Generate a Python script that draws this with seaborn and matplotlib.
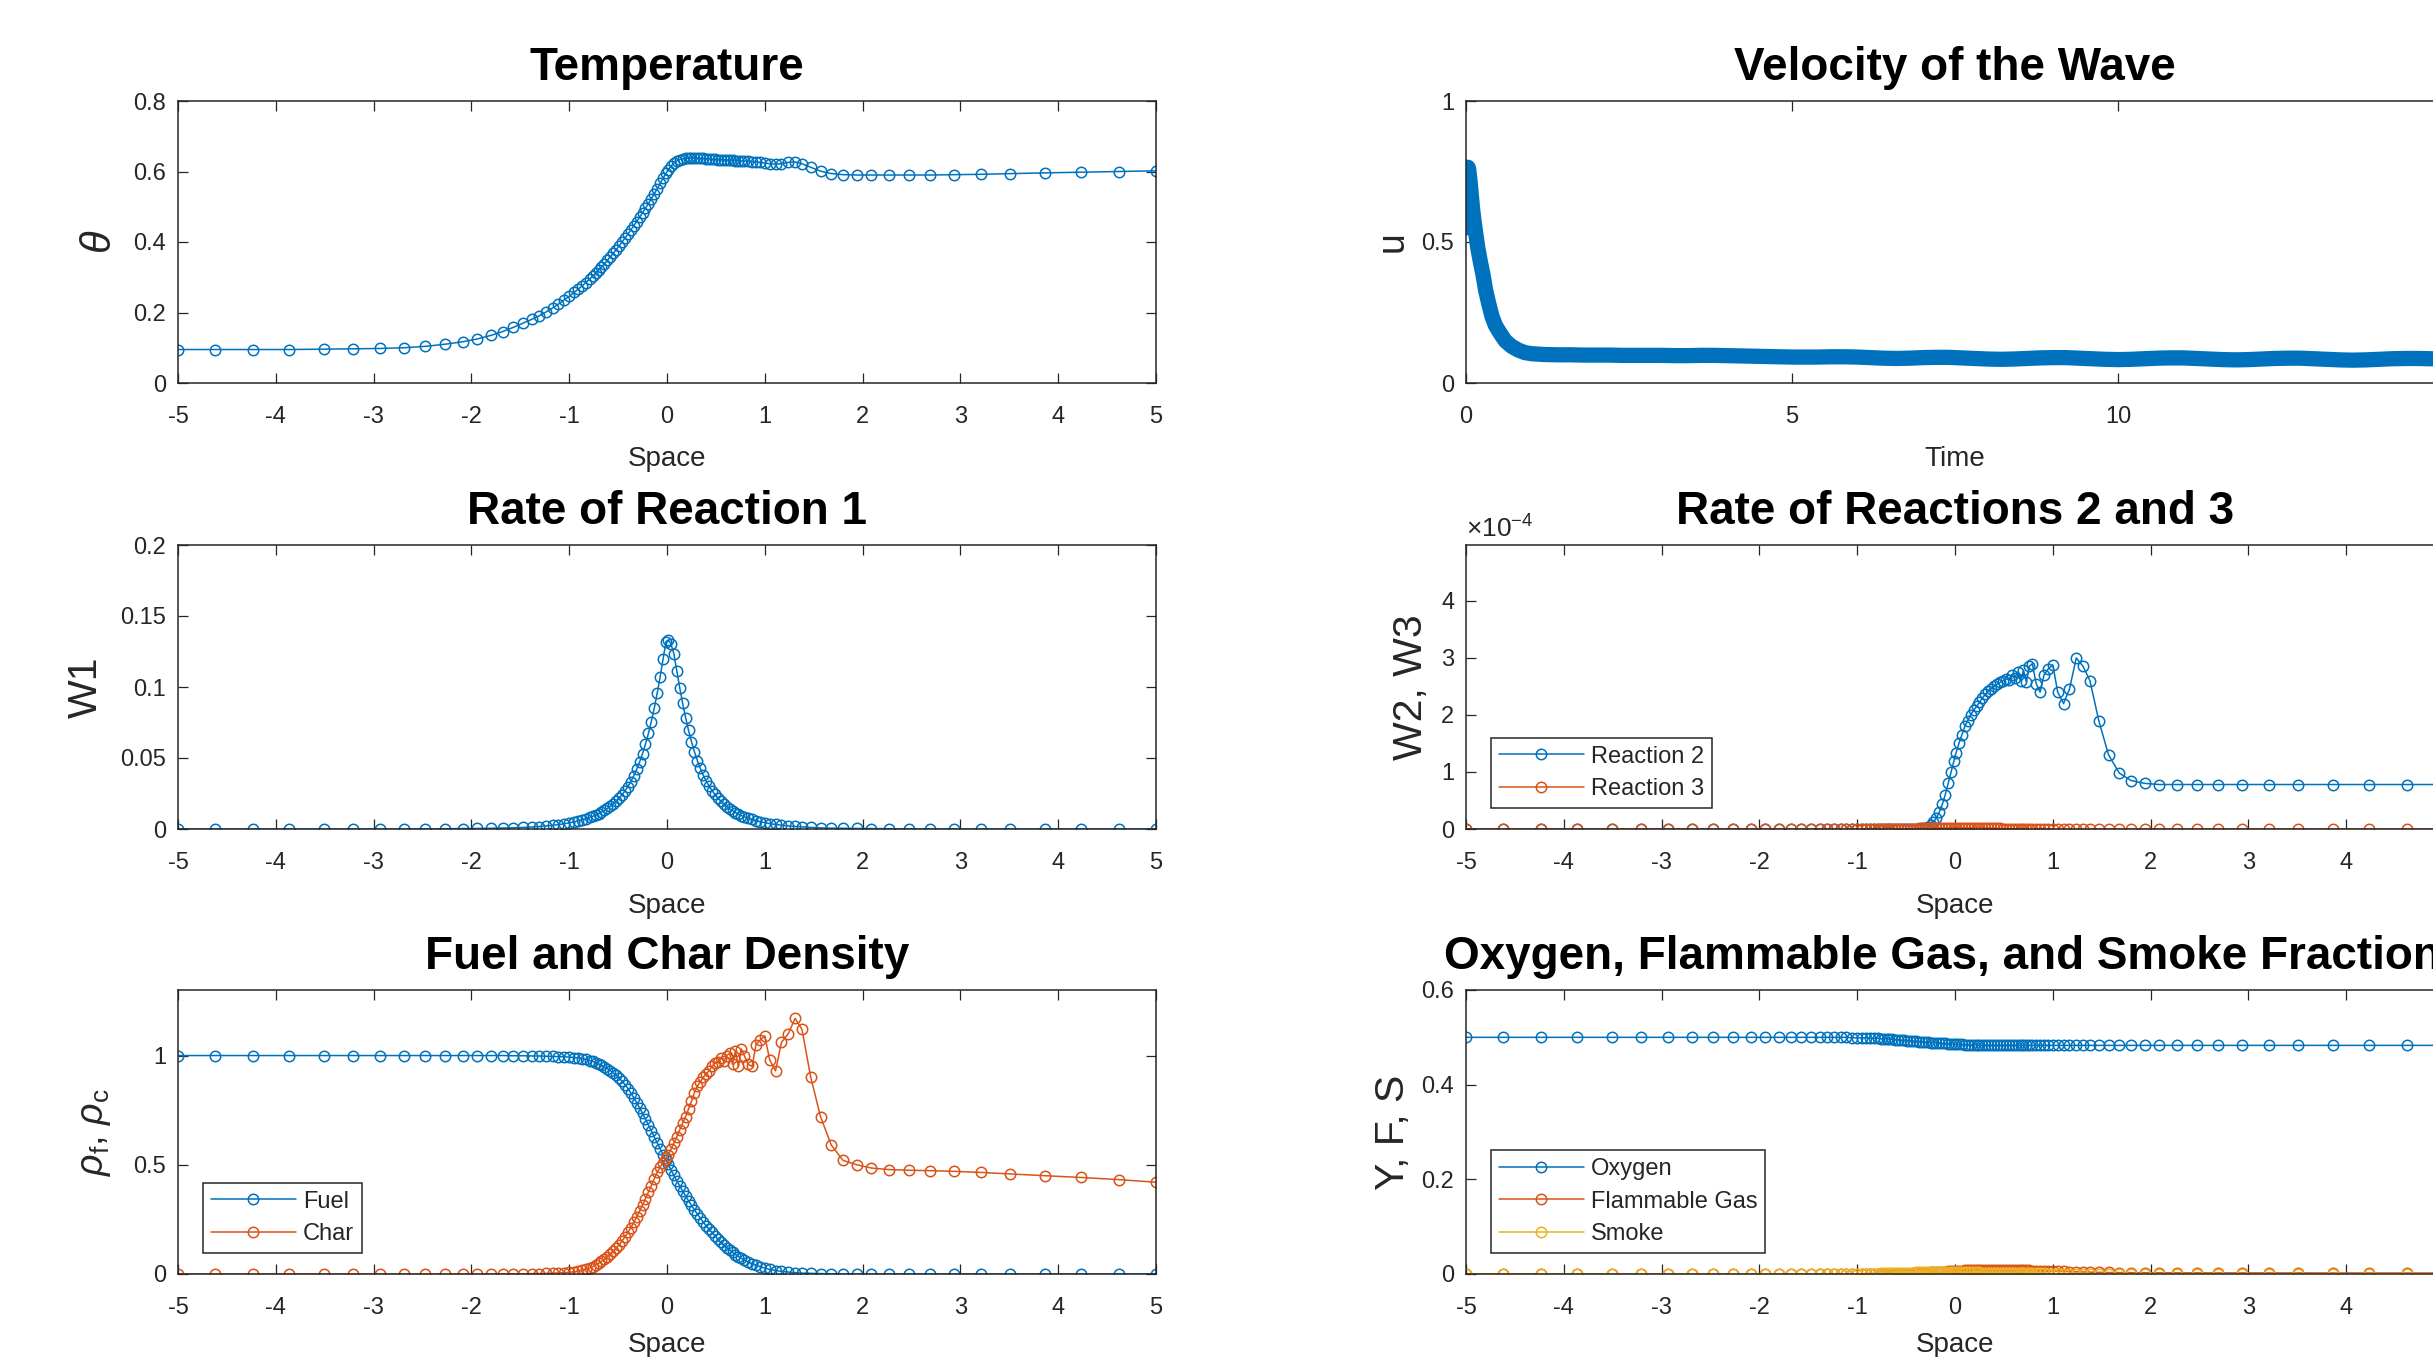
import matplotlib
matplotlib.use('Agg')
import matplotlib.pyplot as plt
from matplotlib.ticker import FuncFormatter
import pandas as pd
import seaborn as sns

# Spatial grid (non-uniform, refined around the front), read off the markers
space = [
    -5.00, -4.62, -4.23, -3.86, -3.51, -3.21, -2.93, -2.69, -2.47,
    -2.27, -2.09, -1.94, -1.80, -1.68, -1.57, -1.47, -1.38, -1.31,
    -1.24, -1.17, -1.11, -1.05, -1.00, -0.95, -0.91, -0.87, -0.83,
    -0.79, -0.76, -0.73, -0.70, -0.67, -0.64, -0.61, -0.58, -0.55,
    -0.52, -0.49, -0.46, -0.43, -0.40, -0.37, -0.34, -0.31, -0.28,
    -0.25, -0.22, -0.19, -0.16, -0.13, -0.10, -0.07, -0.04, -0.01,
    0.01, 0.04, 0.07, 0.10, 0.13, 0.16, 0.19, 0.22, 0.25,
    0.28, 0.31, 0.34, 0.37, 0.40, 0.43, 0.46, 0.49, 0.52,
    0.55, 0.58, 0.61, 0.64, 0.67, 0.70, 0.73, 0.76, 0.79,
    0.83, 0.87, 0.91, 0.95, 1.00, 1.05, 1.11, 1.17, 1.24,
    1.31, 1.38, 1.47, 1.57, 1.68, 1.80, 1.94, 2.09, 2.27,
    2.47, 2.69, 2.93, 3.21, 3.51, 3.86, 4.23, 4.62, 5.00,
]

theta = [
    0.095, 0.095, 0.095, 0.095, 0.096, 0.097, 0.098, 0.100, 0.104,
    0.110, 0.117, 0.125, 0.135, 0.146, 0.158, 0.170, 0.181, 0.190,
    0.201, 0.213, 0.224, 0.236, 0.246, 0.257, 0.266, 0.275, 0.285,
    0.295, 0.303, 0.311, 0.320, 0.329, 0.338, 0.348, 0.358, 0.368,
    0.378, 0.389, 0.400, 0.411, 0.422, 0.434, 0.446, 0.458, 0.470,
    0.483, 0.496, 0.509, 0.523, 0.537, 0.551, 0.566, 0.581, 0.595,
    0.604, 0.615, 0.624, 0.630, 0.634, 0.636, 0.637, 0.638, 0.638,
    0.638, 0.638, 0.637, 0.637, 0.636, 0.636, 0.635, 0.635, 0.634,
    0.634, 0.633, 0.633, 0.632, 0.632, 0.631, 0.631, 0.630, 0.630,
    0.629, 0.628, 0.627, 0.626, 0.624, 0.622, 0.621, 0.622, 0.626,
    0.627, 0.622, 0.612, 0.601, 0.594, 0.591, 0.590, 0.590, 0.590,
    0.590, 0.590, 0.591, 0.592, 0.594, 0.596, 0.598, 0.600, 0.602,
]

w1 = [
    0.0, 0.0, 0.0, 0.0, 0.0, 0.0, 0.0, 0.0, 0.0001,
    0.0002, 0.0003, 0.0004, 0.0005, 0.0007, 0.0009, 0.0011, 0.0014, 0.0017,
    0.0021, 0.0026, 0.0031, 0.0037, 0.0043, 0.0050, 0.0057, 0.0064, 0.0072,
    0.0081, 0.0089, 0.0098, 0.0108, 0.0119, 0.0131, 0.0145, 0.0160, 0.0177,
    0.0196, 0.0217, 0.0241, 0.0268, 0.0299, 0.0334, 0.0374, 0.0420, 0.0472,
    0.0531, 0.0598, 0.0673, 0.0757, 0.0852, 0.0957, 0.1072, 0.1197, 0.1320,
    0.1330, 0.1305, 0.1235, 0.1115, 0.0995, 0.0885, 0.0785, 0.0695, 0.0615,
    0.0545, 0.0482, 0.0428, 0.0380, 0.0339, 0.0303, 0.0271, 0.0243, 0.0218,
    0.0196, 0.0176, 0.0158, 0.0142, 0.0128, 0.0116, 0.0105, 0.0095, 0.0086,
    0.0076, 0.0067, 0.0059, 0.0052, 0.0045, 0.0038, 0.0032, 0.0027, 0.0022,
    0.0018, 0.0015, 0.0011, 0.0008, 0.0006, 0.0005, 0.0004, 0.0003, 0.0002,
    0.0001, 0.0, 0.0, 0.0, 0.0, 0.0, 0.0, 0.0, 0.0,
]

# reaction rates 2 and 3, in units of 1e-4
w2 = [
    0, 0, 0, 0, 0, 0, 0, 0, 0,
    0, 0, 0, 0, 0, 0, 0, 0, 0,
    0, 0, 0, 0, 0, 0, 0, 0, 0,
    0, 0, 0, 0, 0, 0, 0, 0, 0,
    0, 0, 0, 0, 0, 0.005, 0.01, 0.02, 0.04,
    0.07, 0.12, 0.20, 0.30, 0.43, 0.60, 0.80, 1.00, 1.20,
    1.33, 1.50, 1.65, 1.80, 1.90, 2.00, 2.08, 2.15, 2.22,
    2.30, 2.36, 2.42, 2.46, 2.50, 2.54, 2.57, 2.60, 2.63,
    2.62, 2.70, 2.65, 2.75, 2.60, 2.78, 2.58, 2.85, 2.90,
    2.55, 2.40, 2.70, 2.80, 2.88, 2.40, 2.20, 2.45, 3.00,
    2.85, 2.60, 1.90, 1.30, 0.98, 0.85, 0.80, 0.78, 0.78,
    0.78, 0.78, 0.78, 0.78, 0.78, 0.78, 0.78, 0.78, 0.78,
]

w3 = [
    0, 0, 0, 0, 0, 0, 0, 0, 0,
    0, 0, 0, 0, 0, 0, 0, 0, 0,
    0, 0, 0, 0, 0, 0, 0, 0, 0,
    0, 0, 0, 0, 0, 0, 0, 0.002, 0.003,
    0.004, 0.005, 0.006, 0.007, 0.008, 0.009, 0.010, 0.011, 0.012,
    0.013, 0.014, 0.015, 0.016, 0.017, 0.018, 0.019, 0.020, 0.020,
    0.020, 0.020, 0.020, 0.020, 0.020, 0.019, 0.018, 0.017, 0.016,
    0.015, 0.014, 0.013, 0.012, 0.011, 0.010, 0.009, 0.008, 0.007,
    0.006, 0.005, 0.004, 0.003, 0.002, 0.001, 0, 0, 0,
    0, 0, 0, 0, 0, 0, 0, 0, 0,
    0, 0, 0, 0, 0, 0, 0, 0, 0,
    0, 0, 0, 0, 0, 0, 0, 0, 0,
]

fuel = [
    1.000, 1.000, 1.000, 1.000, 1.000, 1.000, 1.000, 1.000, 1.000,
    1.000, 1.000, 1.000, 1.000, 1.000, 0.999, 0.999, 0.998, 0.998,
    0.997, 0.996, 0.995, 0.994, 0.993, 0.991, 0.989, 0.986, 0.982,
    0.977, 0.973, 0.968, 0.962, 0.955, 0.948, 0.940, 0.931, 0.921,
    0.910, 0.897, 0.883, 0.867, 0.849, 0.829, 0.807, 0.784, 0.760,
    0.735, 0.709, 0.682, 0.655, 0.627, 0.600, 0.573, 0.546, 0.520,
    0.503, 0.477, 0.452, 0.427, 0.403, 0.380, 0.357, 0.335, 0.314,
    0.294, 0.274, 0.256, 0.238, 0.221, 0.205, 0.190, 0.176, 0.158,
    0.145, 0.133, 0.121, 0.110, 0.099, 0.089, 0.080, 0.072, 0.064,
    0.055, 0.047, 0.040, 0.034, 0.027, 0.021, 0.016, 0.012, 0.009,
    0.006, 0.004, 0.003, 0.002, 0.001, 0.000, 0.000, 0.000, 0.000,
    0.000, 0.000, 0.000, 0.000, 0.000, 0.000, 0.000, 0.000, 0.000,
]

char = [
    0.000, 0.000, 0.000, 0.000, 0.000, 0.000, 0.000, 0.000, 0.000,
    0.000, 0.000, 0.000, 0.000, 0.000, 0.001, 0.001, 0.002, 0.002,
    0.003, 0.004, 0.005, 0.006, 0.008, 0.010, 0.013, 0.017, 0.022,
    0.028, 0.034, 0.041, 0.049, 0.058, 0.068, 0.079, 0.091, 0.104,
    0.118, 0.134, 0.151, 0.170, 0.190, 0.212, 0.236, 0.261, 0.288,
    0.316, 0.345, 0.375, 0.405, 0.436, 0.466, 0.490, 0.510, 0.530,
    0.545, 0.570, 0.600, 0.627, 0.660, 0.690, 0.720, 0.755, 0.790,
    0.830, 0.860, 0.880, 0.900, 0.915, 0.930, 0.950, 0.965, 0.970,
    0.990, 0.975, 1.000, 1.010, 0.960, 1.020, 0.950, 1.030, 1.000,
    0.960, 0.950, 1.050, 1.070, 1.090, 0.980, 0.930, 1.060, 1.100,
    1.170, 1.120, 0.900, 0.720, 0.590, 0.520, 0.500, 0.485, 0.478,
    0.475, 0.473, 0.470, 0.465, 0.458, 0.450, 0.442, 0.432, 0.420,
]

oxygen = [
    0.500, 0.500, 0.500, 0.500, 0.500, 0.500, 0.500, 0.500, 0.500,
    0.500, 0.500, 0.500, 0.500, 0.500, 0.500, 0.500, 0.500, 0.500,
    0.500, 0.500, 0.500, 0.499, 0.499, 0.499, 0.499, 0.498, 0.498,
    0.498, 0.497, 0.497, 0.497, 0.496, 0.496, 0.495, 0.495, 0.494,
    0.494, 0.493, 0.493, 0.492, 0.492, 0.491, 0.491, 0.490, 0.490,
    0.489, 0.489, 0.488, 0.488, 0.487, 0.487, 0.486, 0.486, 0.486,
    0.485, 0.485, 0.485, 0.484, 0.484, 0.484, 0.484, 0.484, 0.483,
    0.483, 0.483, 0.483, 0.483, 0.483, 0.483, 0.483, 0.483, 0.483,
    0.483, 0.483, 0.483, 0.483, 0.483, 0.483, 0.483, 0.483, 0.483,
    0.483, 0.483, 0.483, 0.483, 0.483, 0.483, 0.483, 0.483, 0.483,
    0.483, 0.483, 0.483, 0.483, 0.483, 0.483, 0.483, 0.483, 0.483,
    0.483, 0.483, 0.483, 0.483, 0.483, 0.483, 0.483, 0.483, 0.483,
]

flam_gas = [
    0, 0, 0, 0, 0, 0, 0, 0, 0,
    0, 0, 0, 0, 0, 0, 0, 0, 0,
    0, 0, 0, 0, 0, 0, 0, 0, 0,
    0, 0, 0, 0, 0, 0, 0, 0.0002, 0.0003,
    0.0005, 0.0007, 0.0009, 0.0011, 0.0014, 0.0017, 0.0020, 0.0024, 0.0028,
    0.0032, 0.0036, 0.0040, 0.0044, 0.0048, 0.0052, 0.0056, 0.0060, 0.0064,
    0.0066, 0.0069, 0.0072, 0.0074, 0.0076, 0.0078, 0.0079, 0.0080, 0.0080,
    0.0080, 0.0080, 0.0080, 0.0080, 0.0080, 0.0080, 0.0080, 0.0080, 0.0080,
    0.0080, 0.0080, 0.0079, 0.0078, 0.0077, 0.0076, 0.0075, 0.0074, 0.0073,
    0.0071, 0.0069, 0.0067, 0.0065, 0.0062, 0.0059, 0.0055, 0.0051, 0.0047,
    0.0043, 0.0039, 0.0035, 0.0032, 0.0030, 0.0028, 0.0027, 0.0026, 0.0025,
    0.0025, 0.0024, 0.0024, 0.0023, 0.0023, 0.0022, 0.0022, 0.0021, 0.0021,
]

smoke = [
    0, 0, 0, 0, 0, 0, 0, 0, 0,
    0, 0, 0, 0, 0, 0, 0.0001, 0.0001, 0.0001,
    0.0002, 0.0002, 0.0003, 0.0004, 0.0005, 0.0006, 0.0007, 0.0008, 0.0009,
    0.0010, 0.0011, 0.0012, 0.0013, 0.0015, 0.0017, 0.0019, 0.0021, 0.0023,
    0.0025, 0.0027, 0.0029, 0.0031, 0.0033, 0.0035, 0.0036, 0.0037, 0.0038,
    0.0039, 0.0040, 0.0040, 0.0041, 0.0041, 0.0041, 0.0041, 0.0041, 0.0040,
    0.0040, 0.0039, 0.0038, 0.0037, 0.0036, 0.0035, 0.0034, 0.0033, 0.0032,
    0.0031, 0.0030, 0.0029, 0.0028, 0.0027, 0.0026, 0.0025, 0.0024, 0.0023,
    0.0022, 0.0021, 0.0020, 0.0019, 0.0018, 0.0017, 0.0016, 0.0015, 0.0014,
    0.0013, 0.0012, 0.0011, 0.0010, 0.0009, 0.0008, 0.0007, 0.0006, 0.0005,
    0.0004, 0.0003, 0.0002, 0.0002, 0.0001, 0.0001, 0, 0, 0,
    0, 0, 0, 0, 0, 0, 0, 0, 0,
]

# wave velocity history
time = [
    0.00, 0.01, 0.02, 0.03, 0.04, 0.06, 0.08, 0.10, 0.12, 0.15, 0.18, 0.22,
    0.26, 0.30, 0.35, 0.40, 0.45, 0.50, 0.60, 0.70, 0.80, 0.90, 1.00,
    1.2, 1.4, 1.6, 1.8, 2.0, 2.2, 2.4, 2.6, 2.8, 3.0, 3.2, 3.4, 3.6, 3.8, 4.0,
    4.2, 4.4, 4.6, 4.8, 5.0, 5.2, 5.4, 5.6, 5.8, 6.0,
    6.2, 6.4, 6.6, 6.8, 7.0, 7.2, 7.4, 7.6, 7.8, 8.0,
    8.2, 8.4, 8.6, 8.8, 9.0, 9.2, 9.4, 9.6, 9.8, 10.0,
    10.2, 10.4, 10.6, 10.8, 11.0, 11.2, 11.4, 11.6, 11.8, 12.0,
    12.2, 12.4, 12.6, 12.8, 13.0, 13.2, 13.4, 13.6, 13.8, 14.0,
    14.2, 14.4, 14.6, 14.8, 15.0,
]
velocity = [
    0.55, 0.64, 0.76, 0.765, 0.76, 0.72, 0.67, 0.62, 0.58, 0.53, 0.48, 0.43,
    0.385, 0.33, 0.28, 0.235, 0.205, 0.185, 0.15, 0.13, 0.117, 0.108, 0.104,
    0.101, 0.100, 0.100, 0.099, 0.099, 0.099, 0.098, 0.098, 0.098, 0.098, 0.097, 0.097, 0.098, 0.098, 0.097,
    0.096, 0.095, 0.094, 0.093, 0.092, 0.092, 0.092, 0.093, 0.093, 0.092,
    0.090, 0.088, 0.087, 0.088, 0.090, 0.091, 0.091, 0.089, 0.087, 0.085,
    0.084, 0.085, 0.087, 0.089, 0.090, 0.090, 0.088, 0.086, 0.084, 0.083,
    0.084, 0.086, 0.088, 0.089, 0.089, 0.087, 0.085, 0.083, 0.082, 0.083,
    0.085, 0.087, 0.088, 0.088, 0.086, 0.084, 0.082, 0.081, 0.082, 0.084,
    0.086, 0.087, 0.087, 0.086, 0.084,
]

BLUE = '#0072BD'
ORANGE = '#D95319'
YELLOW = '#EDB120'
INK = '#262626'

sns.set_style('white')
plt.rcParams['font.family'] = ['Liberation Sans', 'DejaVu Sans']
plt.rcParams.update({
    'axes.unicode_minus': False,
    'mathtext.fontset': 'custom',
    'mathtext.rm': 'Liberation Sans',
    'mathtext.it': 'Liberation Sans:italic',
    'mathtext.bf': 'Liberation Sans:bold',
    'xtick.bottom': True,
    'ytick.left': True,
})

fig = plt.figure(figsize=(24.33, 13.57), dpi=100, facecolor='white')

left_col = 178 / 2433
right_col = 1466 / 2433
ax_w = 978 / 2433
rows = [((1357 - 383) / 1357, 282 / 1357),
        ((1357 - 829) / 1357, 284 / 1357),
        ((1357 - 1274) / 1357, 284 / 1357)]

ax_temp = fig.add_axes([left_col, rows[0][0], ax_w, rows[0][1]])
ax_vel = fig.add_axes([right_col, rows[0][0], ax_w, rows[0][1]])
ax_w1 = fig.add_axes([left_col, rows[1][0], ax_w, rows[1][1]])
ax_w23 = fig.add_axes([right_col, rows[1][0], ax_w, rows[1][1]])
ax_rho = fig.add_axes([left_col, rows[2][0], ax_w, rows[2][1]])
ax_gas = fig.add_axes([right_col, rows[2][0], ax_w, rows[2][1]])

fmt = FuncFormatter(lambda v, p: f'{v:g}')


def draw(ax, x, y, color, label=None, z=2):
    df = pd.DataFrame({'x': x, 'y': y})
    sns.lineplot(data=df, x='x', y='y', ax=ax, color=color, linewidth=1.1,
                 marker='o', markersize=7.5, markerfacecolor='none',
                 markeredgecolor=color, markeredgewidth=1.1, label=label,
                 estimator=None, sort=False, zorder=z)


def style(ax, xlim, ylim, xticks, yticks, title, xlabel, ylabel, ylab_x,
          ylab_size=29.5, xlab_y=-0.225):
    ax.set_xlim(*xlim)
    ax.set_ylim(*ylim)
    ax.set_xticks(xticks)
    ax.set_yticks(yticks)
    ax.xaxis.set_major_formatter(fmt)
    ax.yaxis.set_major_formatter(fmt)
    ax.tick_params(which='both', direction='in', top=True, right=True,
                   length=7, width=0.9, color=INK, labelsize=17,
                   labelcolor=INK)
    ax.tick_params(axis='x', pad=16.3)
    ax.tick_params(axis='y', pad=8.5)
    for s in ax.spines.values():
        s.set_color(INK)
        s.set_linewidth(1.1)
    ax.set_title(title, fontsize=33, fontweight='bold', pad=15, color='black')
    ax.set_xlabel(xlabel, fontsize=20, color=INK)
    ax.xaxis.set_label_coords(0.5, xlab_y)
    ax.set_ylabel(ylabel, fontsize=ylab_size, color=INK)
    ax.yaxis.set_label_coords(ylab_x, 0.5)


def legend(ax):
    leg = ax.legend(loc='lower left', bbox_to_anchor=(0.0256, 0.074),
                    borderaxespad=0, fontsize=17, frameon=True, fancybox=False,
                    edgecolor=INK, framealpha=1, handlelength=3.6,
                    labelspacing=0.45, borderpad=0.33, handletextpad=0.3)
    leg.get_frame().set_linewidth(1.1)
    for t in leg.get_texts():
        t.set_color(INK)


space_ticks = [-5, -4, -3, -2, -1, 0, 1, 2, 3, 4, 5]
# the right-hand panels run past the figure edge, so their last tick is off-page
space_ticks_cut = [-5, -4, -3, -2, -1, 0, 1, 2, 3, 4]

# Temperature
draw(ax_temp, space, theta, BLUE)
style(ax_temp, (-5, 5), (0, 0.8), space_ticks, [0, 0.2, 0.4, 0.6, 0.8],
      'Temperature', 'Space', r'$\theta$', -0.059, ylab_size=30)

# Velocity of the wave: dense samples form a solid band
vel_df = pd.DataFrame({'t': time, 'u': velocity})
sns.lineplot(data=vel_df, x='t', y='u', ax=ax_vel, color=BLUE, linewidth=11,
             estimator=None, sort=False, solid_capstyle='round')
draw(ax_vel, time, velocity, BLUE)
style(ax_vel, (0, 15), (0, 1), [0, 5, 10], [0, 0.5, 1],
      'Velocity of the Wave', 'Time', 'u', -0.057, ylab_size=27)

# Rate of reaction 1
draw(ax_w1, space, w1, BLUE)
style(ax_w1, (-5, 5), (0, 0.2), space_ticks, [0, 0.05, 0.1, 0.15, 0.2],
      'Rate of Reaction 1', 'Space', 'W1', -0.0745)

# Rates of reactions 2 and 3
draw(ax_w23, space, w2, BLUE, 'Reaction 2')
draw(ax_w23, space, w3, ORANGE, 'Reaction 3')
style(ax_w23, (-5, 5), (0, 4.98), space_ticks_cut, [0, 1, 2, 3, 4],
      'Rate of Reactions 2 and 3', 'Space', 'W2, W3', -0.037)
ax_w23.text(0.0, 1.01, r'$\times10^{-4}$', transform=ax_w23.transAxes,
            fontsize=19, color=INK, ha='left', va='bottom')
legend(ax_w23)

# Fuel and char density
draw(ax_rho, space, fuel, BLUE, 'Fuel')
draw(ax_rho, space, char, ORANGE, 'Char')
style(ax_rho, (-5, 5), (0, 1.3), space_ticks, [0, 0.5, 1],
      'Fuel and Char Density', 'Space', r'$\rho_{\mathrm{f}}$, $\rho_{\mathrm{c}}$',
      -0.0665, ylab_size=27, xlab_y=-0.204)
legend(ax_rho)

# Oxygen, flammable gas and smoke
draw(ax_gas, space, oxygen, BLUE, 'Oxygen')
draw(ax_gas, space, flam_gas, ORANGE, 'Flammable Gas')
draw(ax_gas, space, smoke, YELLOW, 'Smoke')
style(ax_gas, (-5, 5), (0, 0.6), space_ticks_cut, [0, 0.2, 0.4, 0.6],
      'Oxygen, Flammable Gas, and Smoke Fractions', 'Space', 'Y, F, S', -0.0556,
      xlab_y=-0.204)
legend(ax_gas)

fig.savefig('out.png', dpi=100, facecolor='white')
